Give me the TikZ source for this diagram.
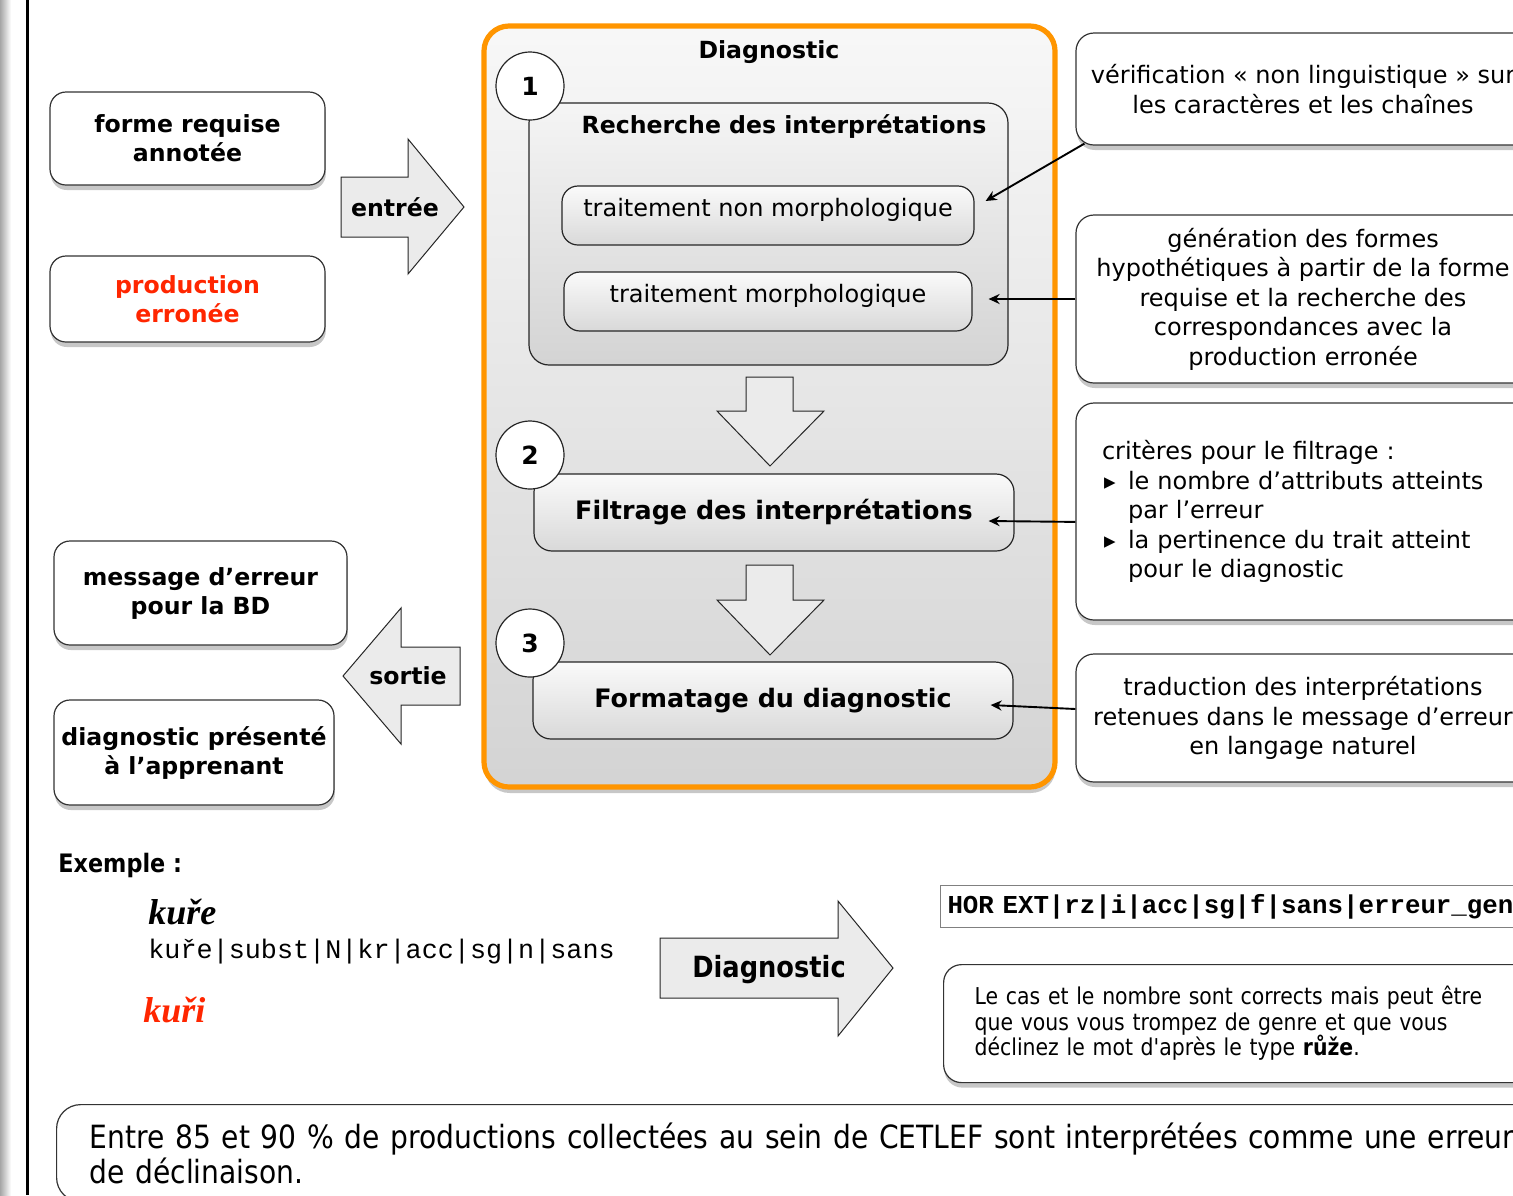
\documentclass[tikz,border=0pt]{standalone}
\usepackage{fontspec}
\setmainfont{DejaVu Sans}
\newfontfamily\narrowfont[FakeStretch=0.88]{DejaVu Sans}
\newfontfamily\exserif{Liberation Serif}
\newfontfamily\exmono{Liberation Mono}
\usetikzlibrary{arrows.meta,shadows,calc,positioning}
\definecolor{diagorange}{RGB}{255,149,0}
\definecolor{errred}{RGB}{255,38,0}
\definecolor{arrowgray}{RGB}{235,235,235}
\newcommand{\tribullet}{\hspace*{1pt}\makebox[12pt][l]{\fontsize{11.5}{11.5}\selectfont ▸}}

\begin{document}
\begin{tikzpicture}[x=0.5pt,y=-0.5pt,
    every node/.style={font=\fontsize{12}{14.75}\selectfont},
    boldtxt/.style={font=\fontsize{11.8}{14.5}\selectfont\bfseries},
    sidebox/.style={draw=black!80, line width=0.6pt, rounded corners=8pt, fill=white,
      align=center, inner sep=0pt,
      drop shadow={shadow xshift=0.4pt, shadow yshift=-2.5pt, fill=black, opacity=0.22}},
    stepbox/.style={draw=black!85, line width=0.6pt, rounded corners=9pt,
      top color=black!2, bottom color=black!15, align=center, inner sep=0pt},
    numcirc/.style={circle, draw=black!85, line width=0.6pt, fill=white, minimum size=34pt,
      inner sep=0pt, font=\fontsize{12.5}{12.5}\selectfont\bfseries},
    fatarrow/.style={draw=black!85, line width=0.5pt, fill=arrowgray, line join=miter},
    link/.style={line width=0.95pt, -{Stealth[length=5.5pt,width=5pt]}}]
  \useasboundingbox (0,0) rectangle (1513,1195);
  \clip (0,0) rectangle (1513,1195);

  % page edge
  \shade[left color=black!35, right color=white] (0,0) rectangle (11,1195);
  \draw[line width=1.5pt] (27,0) -- (27,1195);

  % inputs
  \node[sidebox, minimum width=137.5pt, minimum height=46.5pt, boldtxt] (forme) at (187.5,138.5) {forme requise\\annotée};
  \node[sidebox, minimum width=137.5pt, minimum height=43pt, boldtxt, text=errred] (prod) at (187.5,299) {production\\erronée};
  \draw[fatarrow] (341,177) -- (408,177) -- (408,139) -- (464,207) -- (408,274) -- (408,237) -- (341,237) -- cycle;
  \node[boldtxt] (entree) at (395,207) {entrée};

  % outputs
  \node[sidebox, minimum width=146.5pt, minimum height=52pt, boldtxt] (msg) at (200.5,593) {message d’erreur\\pour la BD};
  \node[sidebox, minimum width=140pt, minimum height=52.5pt, boldtxt] (apprenant) at (194,752.5) {diagnostic présenté\\à l’apprenant};
  \draw[fatarrow] (460,647) -- (401,647) -- (401,608) -- (343,676) -- (401,744) -- (401,705) -- (460,705) -- cycle;
  \node[boldtxt] (sortie) at (408,676) {sortie};

  % diagnostic module
  \node[draw=diagorange, line width=2.6pt, rounded corners=12.5pt, top color=black!3, bottom color=black!17,
    minimum width=285.5pt, minimum height=380.5pt,
    drop shadow={shadow xshift=0.4pt, shadow yshift=-3pt, fill=black, opacity=0.22}] (diag) at (769.5,406.5) {};
  \node[boldtxt] (diagtitle) at (769,52) {Diagnostic};

  % step 1
  \node[stepbox, rounded corners=10pt, minimum width=239.5pt, minimum height=131pt, top color=black!4, bottom color=black!17] (rech) at (768.5,234) {};
  \node[boldtxt] (rechtitle) at (784,127) {Recherche des interprétations};
  \node[stepbox, rounded corners=8pt, minimum width=206pt, minimum height=29.5pt,
    label={[yshift=3pt]center:traitement non morphologique}] (tnm) at (768,215.5) {};
  \node[stepbox, rounded corners=8pt, minimum width=204pt, minimum height=29.5pt,
    label={[yshift=3pt]center:traitement morphologique}] (tm) at (768,301.5) {};
  \node[numcirc] (n1) at (530,86) {1};
  \draw[fatarrow] (746,377) -- (793,377) -- (793,411) -- (824,411) -- (770,466) -- (717,411) -- (746,411) -- cycle;

  % step 2
  \node[stepbox, minimum width=240pt, minimum height=38.5pt, font=\fontsize{12.7}{15}\selectfont\bfseries] (filt) at (774,512.5) {Filtrage des interprétations};
  \node[numcirc] (n2) at (530,455) {2};
  \draw[fatarrow] (746,565) -- (793,565) -- (793,600) -- (824,600) -- (770,655) -- (717,600) -- (746,600) -- cycle;

  % step 3
  \node[stepbox, minimum width=240pt, minimum height=38.5pt, font=\fontsize{12.7}{15}\selectfont\bfseries] (fmt) at (773,700.5) {Formatage du diagnostic};
  \node[numcirc] (n3) at (530,643) {3};

  % comments on the right
  \node[sidebox, rounded corners=9pt, minimum width=227pt, minimum height=56pt] (verif) at (1303,89)
    {vérification « non linguistique » sur\\les caractères et les chaînes};
  \node[sidebox, rounded corners=9pt, minimum width=227pt, minimum height=84pt] (gen) at (1303,299)
    {génération des formes\\hypothétiques à partir de la forme\\requise et la recherche des\\correspondances avec la\\production erronée};
  \node[sidebox, rounded corners=9pt, minimum width=227pt, minimum height=108.5pt, align=left,
    inner xsep=13pt, text width=201pt] (crit) at (1303,511.5)
    {critères pour le filtrage :\\
     \tribullet le nombre d’attributs atteints\\
     \hspace*{13pt}par l’erreur\\
     \tribullet la pertinence du trait atteint\\
     \hspace*{13pt}pour le diagnostic};
  \node[sidebox, rounded corners=9pt, minimum width=227pt, minimum height=64pt] (trad) at (1303,718)
    {traduction des interprétations\\retenues dans le message d’erreur\\en langage naturel};

  \draw[link] ([xshift=4.5pt,yshift=1pt]verif.south west) -- ([xshift=5.5pt,yshift=7.25pt]tnm.east);
  \draw[link, shorten >=8pt] (gen.west) -- (gen.west -| tm.east);
  \draw[link] ([yshift=-5.2pt]crit.west) -- ([xshift=-13pt,yshift=-4.25pt]filt.east);
  \draw[link] ([yshift=4.5pt]trad.west) -- ([xshift=-11.5pt,yshift=-2.25pt]fmt.east);

  % example
  \node[anchor=west, inner sep=0pt, font=\narrowfont\bfseries\fontsize{12.7}{14}\selectfont] (exlabel) at (58,865) {Exemple :};
  \node[anchor=west, inner sep=0pt, font=\exserif\bfseries\itshape\fontsize{18}{20}\selectfont] (correct) at (148,912) {kuře};
  \node[anchor=west, inner sep=0pt, font=\exmono\fontsize{13.4}{15}\selectfont] (annot) at (148,952) {kuře|subst|N|kr|acc|sg|n|sans};
  \node[anchor=west, inner sep=0pt, text=errred, font=\exserif\bfseries\itshape\fontsize{18}{20}\selectfont] (wrong) at (143,1010) {kuři};
  \draw[fatarrow] (660,938) -- (838,938) -- (838,901) -- (893,968) -- (838,1036) -- (838,998) -- (660,998) -- cycle;
  \node[font=\narrowfont\bfseries\fontsize{14.6}{16}\selectfont] (diagarrow) at (769,970) {Diagnostic};
  \node[draw=black!50, line width=0.5pt, anchor=north west, minimum height=21pt, inner xsep=3.5pt,
    text width=293pt, align=left, font=\exmono\bfseries\fontsize{12.9}{14}\selectfont] (tag) at (940,885)
    {HOR EXT|rz|i|acc|sg|f|sans|erreur\_gen};
  \node[sidebox, rounded corners=9pt, anchor=north west, minimum height=59pt, inner xsep=15.5pt,
    text width=269pt, align=left, font=\narrowfont\fontsize{11.6}{12.75}\selectfont] (cas) at (943,964)
    {Le cas et le nombre sont corrects mais peut être\\que vous vous trompez de genre et que vous\\déclinez le mot d'après le type \textbf{růže}.};

  % bottom note
  \node[draw=black!80, line width=0.6pt, rounded corners=12pt, anchor=north west, minimum height=48.5pt,
    inner xsep=16.5pt, text width=717pt, align=left, font=\narrowfont\fontsize{16}{17.5}\selectfont] (note) at (56,1104)
    {\makebox[717pt][s]{Entre 85 et 90 \% de productions collectées au sein de CETLEF sont interprétées comme une erreur}\\de déclinaison.};
\end{tikzpicture}
\end{document}
